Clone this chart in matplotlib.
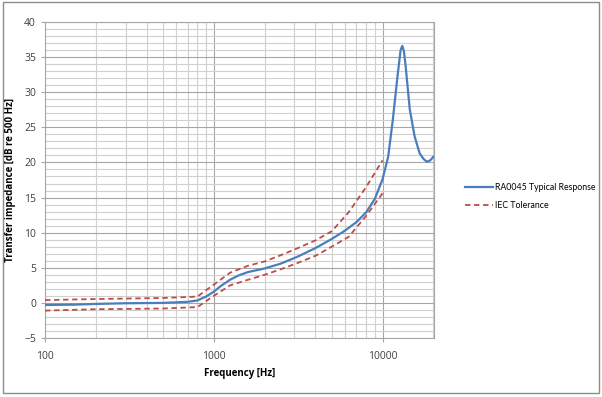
import matplotlib.pyplot as plt
from matplotlib.patches import Rectangle
from matplotlib.ticker import FixedLocator, NullFormatter

# typical response
freq = [100, 150, 200, 300, 500, 700, 800, 900, 1000, 1100, 1250, 1400, 1600,
        2000, 2500, 3150, 4000, 5000, 6000, 7000, 8000, 9000, 10000, 10800,
        11500, 12300, 12800, 13100, 13400, 13700, 14500, 15500, 16600, 17500,
        18300, 19200, 20000]
response = [-0.3, -0.25, -0.15, -0.05, 0.0, 0.15, 0.35, 0.9, 1.6, 2.4, 3.3, 3.9, 4.4,
            4.9, 5.6, 6.6, 7.8, 9.1, 10.3, 11.5, 12.9, 14.8, 17.6, 20.8,
            26.0, 32.5, 36.0, 36.6, 35.8, 33.8, 27.6, 23.7, 21.3, 20.5,
            20.1, 20.3, 20.8]

# IEC tolerance limits
tol_freq = [100, 200, 500, 800, 1000, 1250, 1600, 2000, 2500, 3150, 4000, 5000,
            6300, 8000, 10000]
tol_upper = [0.4, 0.55, 0.7, 0.9, 2.6, 4.3, 5.3, 5.9, 6.8, 7.8, 8.9, 10.2,
             12.9, 16.5, 20.3]
tol_lower = [-1.1, -0.9, -0.8, -0.6, 1.0, 2.5, 3.3, 4.0, 4.8, 5.7, 6.7, 8.0,
             9.4, 12.4, 15.6]

font = "Open Sans"
fig = plt.figure(figsize=(6.02, 3.97), dpi=100)
ax = fig.add_axes([0.0748, 0.1486, 0.6462, 0.796])

blue = "#4a7ebb"
red = "#be4b48"
ax.plot(freq, response, color=blue, lw=1.6, label="RA0045 Typical Response", zorder=3)
ax.plot(tol_freq, tol_upper, color=red, lw=1.3, ls=(0, (3, 2)), label="IEC Tolerance", zorder=3)
ax.plot(tol_freq, tol_lower, color=red, lw=1.3, ls=(0, (3, 2)), zorder=3)

ax.set_xscale("log")
ax.set_xlim(100, 20200)
ax.set_ylim(-5, 40)
ax.xaxis.set_major_locator(FixedLocator([100, 1000, 10000]))
ax.xaxis.set_minor_locator(FixedLocator([m * d for d in (100, 1000, 10000) for m in range(2, 10) if m * d < 20200]))
ax.xaxis.set_minor_formatter(NullFormatter())
ax.set_xticklabels(["100", "1000", "10000"])
ax.set_yticks(range(-5, 41, 5))
ax.yaxis.set_minor_locator(FixedLocator(range(-5, 41, 1)))

ax.grid(which="major", color="#a6a6a6", lw=0.8)
ax.grid(which="minor", color="#d0d0d0", lw=0.8)
ax.set_axisbelow(True)
for s in ax.spines.values():
    s.set_color("#a6a6a6")
    s.set_linewidth(0.8)
ax.tick_params(which="major", length=3, color="#a6a6a6", labelsize=7.5, labelcolor="#404040")
ax.tick_params(which="minor", length=0)
for lbl in ax.get_xticklabels() + ax.get_yticklabels():
    lbl.set_fontfamily(font)
ax.tick_params(axis="x", pad=6)

ax.set_xlabel("Frequency [Hz]", fontsize=7, fontweight="bold", family=font, labelpad=5)
ax.set_ylabel("Transfer impedance [dB re 500 Hz]", fontsize=7, fontweight="bold", family=font, labelpad=6)

fig.legend(loc="center left", bbox_to_anchor=(0.762, 0.505), frameon=False,
           prop={"family": "Lato", "size": 6.3}, handlelength=3.2, handletextpad=0.2,
           labelspacing=1.0, borderpad=0.2)

fig.patches.append(Rectangle((0.005, 0.01), 0.99, 0.985, transform=fig.transFigure,
                             fill=False, edgecolor="#8c8c8c", lw=1.0))

plt.savefig("out.png", dpi=100)
